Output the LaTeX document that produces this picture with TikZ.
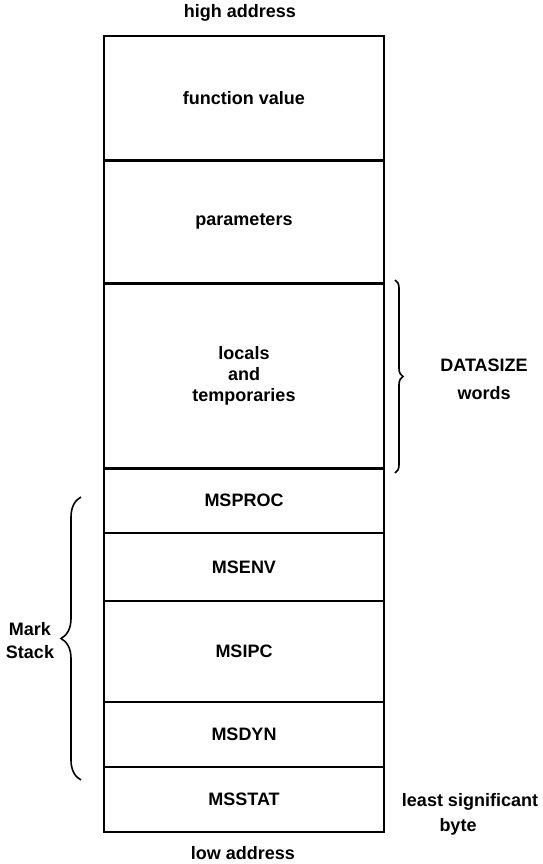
\documentclass[tikz,border=0pt]{standalone}
\usepackage{fontspec}
\setmainfont{Liberation Sans}
\usetikzlibrary{decorations.pathreplacing}
\newcommand{\diaglbl}{\fontsize{18}{21}\selectfont\bfseries}
\begin{document}
\begin{tikzpicture}[x=1pt,y=-1pt,
  cell/.style={draw, line width=1.6pt, minimum width=280pt, inner sep=0pt, outer sep=0pt, font=\diaglbl, align=center},
  lbl/.style={font=\diaglbl, align=center, inner sep=0pt},
  thickdiv/.style={line width=3pt},
  curly/.style={decorate, decoration={brace, amplitude=#1}, line width=1.6pt}]
\useasboundingbox (0,0) rectangle (542,864);
% cells
\node[cell, minimum height=124pt] (fv) at (244,98) {function value};
\node[cell, minimum height=123pt] (par) at (244,221.5) {parameters};
\node[cell, minimum height=185pt, font=\fontsize{18}{21}\selectfont\bfseries] (loc) at (244,375.5) {locals\\and\\temporaries};
\node[cell, minimum height=65pt] (msproc) at (244,500.5) {MSPROC};
\node[cell, minimum height=68pt] (msenv) at (244,567) {MSENV};
\node[cell, minimum height=101pt] (msipc) at (244,651.5) {MSIPC};
\node[cell, minimum height=65pt] (msdyn) at (244,734.5) {MSDYN};
\node[cell, minimum height=65pt] (msstat) at (244,799.5) {MSSTAT};
% thicker dividers
\draw[thickdiv] (fv.south west) -- (fv.south east);
\draw[thickdiv] (par.south west) -- (par.south east);
\draw[thickdiv] (loc.south west) -- (loc.south east);
% outer labels
\node[lbl] (high) at (240,13) {high address};
\node[lbl] (low) at (243,853) {low address};
\node[lbl, font=\fontsize{18}{28}\selectfont\bfseries] (dsz) at (484,379) {DATASIZE\\words};
\node[lbl] (lsb1) at (470,802) {least significant};
\node[lbl] (lsb2) at (458,827) {byte};
\node[lbl, font=\fontsize{18}{23}\selectfont\bfseries] (mark) at (30,641) {Mark\\Stack};
% braces
\coordinate (rbt) at (395,280);
\coordinate (rbb) at (395,473);
\draw[curly=8pt] (rbt) -- (rbb);
\coordinate (lbt) at (81,497);
\coordinate (lbb) at (81,780);
\draw[curly=20pt] (lbb) -- (lbt);
\end{tikzpicture}
\end{document}
